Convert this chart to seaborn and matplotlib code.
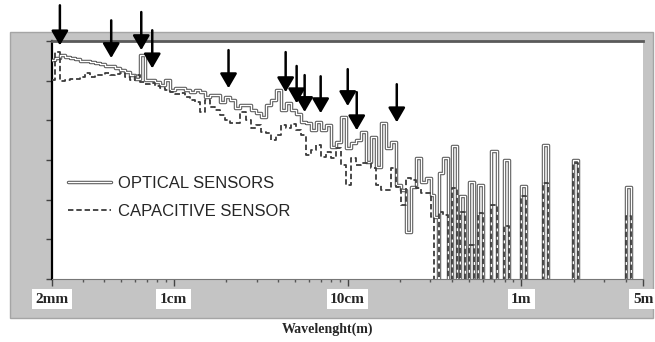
import numpy as np
import pandas as pd
import matplotlib
matplotlib.use("Agg")
import matplotlib.pyplot as plt
import matplotlib.patheffects as pe
from matplotlib.patches import Rectangle
from matplotlib.ticker import FixedLocator, LogLocator, NullFormatter
import seaborn as sns

# ---------------- data (wavelength in mm, level in arbitrary units 0..6) ----------------
dense_edges_mm = [2.0, 2.08, 2.22, 2.38, 2.54, 2.71, 2.90, 3.10, 3.31, 3.54,
                  3.78, 4.04, 4.32, 4.62, 4.93, 5.27, 5.63, 6.02, 6.43, 6.87,
                  7.34, 7.85, 8.39, 8.96, 9.58, 10.23, 10.94, 11.69, 12.49, 13.35,
                  14.26, 15.24, 16.29, 17.40, 18.60, 19.87, 21.24, 22.69, 24.25, 25.92,
                  27.69, 29.59, 31.62, 33.79, 36.11, 38.59, 41.24, 44.07, 47.09, 50.32,
                  53.78, 57.47, 61.41, 65.62, 70.13, 74.94, 80.08, 85.57, 91.44, 97.72,
                  104.4, 111.6, 119.2, 127.4, 136.2, 145.5, 155.5, 166.2, 177.6, 189.7,
                  202.8, 216.7, 231.5, 247.4, 264.4, 282.6, 301.9, 314.0]

optical_dense = [5.52, 5.57, 5.64, 5.59, 5.57, 5.54, 5.49, 5.49, 5.47, 5.44,
                 5.42, 5.37, 5.37, 5.31, 5.26, 5.21, 5.14, 5.04, 5.64, 5.01,
                 5.01, 4.96, 4.89, 5.01, 4.76, 4.81, 4.81, 4.76, 4.71, 4.76,
                 4.71, 4.58, 4.63, 4.63, 4.46, 4.58, 4.51, 4.31, 4.38, 4.38,
                 4.26, 4.18, 4.08, 4.38, 4.51, 4.76, 4.26, 4.43, 4.26, 4.16,
                 3.95, 3.93, 3.75, 3.95, 3.75, 3.88, 3.32, 3.45, 4.08, 3.30,
                 3.43, 3.50, 3.70, 2.95, 3.58, 2.82, 3.93, 3.30, 3.45, 2.37,
                 2.24, 1.18, 2.32, 3.05, 2.44, 2.54, 2.12]

capacitive_dense = [5.01, 5.72, 4.99, 5.01, 5.04, 5.04, 5.09, 5.19, 5.09, 5.14,
                    5.14, 5.19, 5.14, 5.16, 5.19, 5.09, 5.01, 5.14, 4.96, 4.91,
                    4.94, 4.86, 4.81, 4.76, 4.71, 4.66, 4.69, 4.58, 4.51, 4.46,
                    4.21, 4.51, 4.33, 4.26, 4.13, 4.01, 3.93, 3.93, 4.21, 4.01,
                    3.80, 3.88, 3.70, 3.68, 3.50, 3.63, 3.88, 3.80, 3.90, 3.75,
                    3.63, 3.12, 3.25, 3.38, 3.07, 3.20, 3.05, 3.30, 2.87, 2.37,
                    3.05, 2.87, 2.92, 2.92, 2.80, 2.37, 2.24, 2.24, 2.80, 2.32,
                    1.86, 2.54, 2.49, 2.29, 2.17, 2.17, 1.56]

bar_lo_mm = [314.0, 335.6, 353.8, 398.8, 443.4, 499.7, 563.1, 669.5, 795.2, 996.6, 1334, 1987, 4015]
bar_hi_mm = [331.1, 353.8, 378.1, 426.2, 473.9, 534.0, 601.8, 724.7, 849.8, 1065, 1426, 2123, 4290]
optical_bars = [1.56, 2.67, 3.05, 3.35, 2.09, 2.44, 2.37, 3.22, 3.00, 2.34, 3.38, 3.00, 2.32]
capacitive_bars = [0.0, 1.69, 1.61, 2.29, 1.69, 0.86, 1.66, 1.86, 1.34, 2.09, 2.42, 2.92, 1.59]

arrow_mm = [2.22, 4.38, 6.52, 7.54, 20.7, 44.1, 51.0, 56.7, 70.1, 100.3, 113.0, 192.0]
arrow_tip = [5.89, 5.57, 5.77, 5.31, 4.81, 4.71, 4.43, 4.21, 4.18, 4.36, 3.75, 3.95]
arrow_tail = [6.90, 6.52, 6.73, 6.27, 5.77, 5.72, 5.37, 5.14, 5.11, 5.29, 4.71, 4.91]

tick_values_m = [0.002, 0.01, 0.1, 1.0, 5.0]
tick_labels = ["2mm", "1cm", "10cm", "1m", "5m"]
series_labels = ["OPTICAL SENSORS", "CAPACITIVE SENSOR"]
x_title = "Wavelenght(m)"

# gaps between bars are drawn just below the visible y range so that they are clipped
GAP_LEVEL = -0.6


def build_steps(edges, vals, lo, hi, bvals):
    xs = list(edges[:-1])
    ys = list(vals)
    end = edges[-1]
    for a, b, v in zip(lo, hi, bvals):
        if v <= 0:
            continue
        if a > end + 1e-9:
            xs.append(end)
            ys.append(GAP_LEVEL)
        xs.append(a)
        ys.append(v)
        end = b
    xs.append(end)
    ys.append(GAP_LEVEL)
    return np.array(xs) / 1000.0, np.array(ys)


xo, yo = build_steps(dense_edges_mm, optical_dense, bar_lo_mm, bar_hi_mm, optical_bars)
xc, yc = build_steps(dense_edges_mm, capacitive_dense, bar_lo_mm, bar_hi_mm, capacitive_bars)
df_o = pd.DataFrame({"wavelength": xo, "level": yo})
df_c = pd.DataFrame({"wavelength": xc, "level": yc})

# ---------------- figure ----------------
sns.set_style("white")
plt.rcParams["font.family"] = ["Liberation Sans", "DejaVu Sans"]

W, H = 655, 342
fig = plt.figure(figsize=(W / 100, H / 100), dpi=100)
fig.patch.set_facecolor("white")
fig.add_artist(Rectangle((10 / W, 24 / H), 643 / W, 286 / H, transform=fig.transFigure,
                         facecolor="#c4c4c4", edgecolor="#a5a5a5", lw=1, zorder=0))
ax = fig.add_axes([52 / W, 63 / H, 591 / W, 238 / H])
ax.set_facecolor("white")

sns.lineplot(data=df_o, x="wavelength", y="level", ax=ax, estimator=None, sort=False,
             drawstyle="steps-post", color="white", lw=0.9, zorder=3,
             path_effects=[pe.Stroke(linewidth=2.5, foreground="#606060"), pe.Normal()])
line_o = ax.lines[-1]
sns.lineplot(data=df_c, x="wavelength", y="level", ax=ax, estimator=None, sort=False,
             drawstyle="steps-post", color="#3c3c3c", lw=1.3, zorder=4,
             linestyle=(0, (3, 1.6)))
line_c = ax.lines[-1]

ax.set_xscale("log")
ax.set_xlim(0.002, 5.0)
ax.set_ylim(0, 6)

ax.xaxis.set_major_locator(FixedLocator(tick_values_m))
ax.set_xticklabels(tick_labels)
ax.xaxis.set_minor_locator(LogLocator(base=10, subs=np.arange(2, 10)))
ax.xaxis.set_minor_formatter(NullFormatter())
ax.set_yticks(np.arange(0, 7))
ax.set_yticklabels([])
ax.tick_params(axis="x", which="major", bottom=True, direction="out", length=5, width=1,
               color="#444444", pad=5, labelsize=11)
ax.tick_params(axis="x", which="minor", bottom=True, direction="out", length=2.5, width=1,
               color="#555555")
ax.tick_params(axis="y", left=True, direction="out", length=4, width=1, color="#444444")
for lab in ax.get_xticklabels():
    lab.set_fontfamily("Liberation Serif")
    lab.set_fontweight("bold")
    lab.set_bbox(dict(facecolor="white", edgecolor="none", pad=2.5))

ax.set_xlabel(x_title, fontfamily="Liberation Serif", fontweight="bold", fontsize=10)
ax.xaxis.set_label_coords((327.5 - 52) / 591, (279 - 323) / 238)
ax.set_ylabel("")

ax.spines["left"].set_color("black")
ax.spines["left"].set_linewidth(1.6)
ax.spines["top"].set_color("#5a5a5a")
ax.spines["top"].set_linewidth(2)
ax.spines["right"].set_visible(False)
ax.spines["bottom"].set_color("#777777")
ax.spines["bottom"].set_linewidth(0.8)

for xm, tip, tail in zip(arrow_mm, arrow_tip, arrow_tail):
    ax.annotate("", xy=(xm / 1000.0, tip), xytext=(xm / 1000.0, tail),
                arrowprops=dict(arrowstyle="-|>,head_length=0.55,head_width=0.32",
                                color="black", lw=1.8, shrinkA=0, shrinkB=0,
                                mutation_scale=16),
                annotation_clip=False, zorder=6)

ax.legend(handles=[line_o, line_c], labels=series_labels, loc="upper left",
          bbox_to_anchor=((68 - 52) / 591, (279 - 176) / 238), frameon=False,
          fontsize=12, handlelength=2.6, handletextpad=0.4, labelspacing=0.75,
          borderpad=0, borderaxespad=0)

fig.savefig("out.png", dpi=100)
